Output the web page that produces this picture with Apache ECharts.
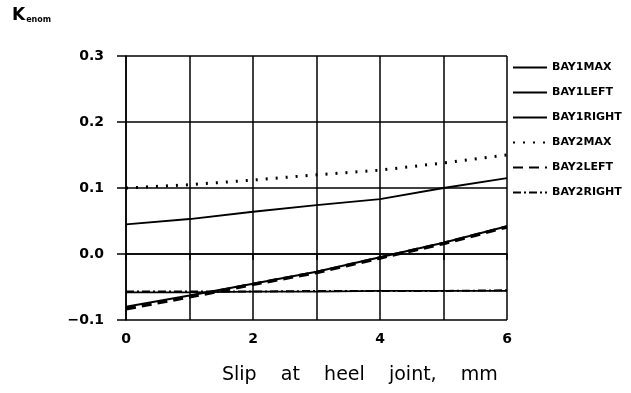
<!DOCTYPE html>
<html>
<head>
<meta charset="utf-8">
<script src="https://cdn.jsdelivr.net/npm/echarts@6/dist/echarts.min.js"></script>
<style>
    html, body { margin: 0; padding: 0; background: #fff; }
    #chart { width: 631px; height: 393px; }
</style>
</head>
<body>
<div id="chart"></div>
<script>
    // slip at heel joint, mm
    var slip = [0, 1, 2, 3, 4, 5, 6];
    var xTicks = ['0', '', '2', '', '4', '', '6'];
    var yTicks = ['\u22120.1', '0.0', '0.1', '0.2', '0.3'];

    var bay1Max = [0.045, 0.053, 0.064, 0.074, 0.083, 0.100, 0.115];
    var bay1Left = [-0.080, -0.063, -0.045, -0.027, -0.005, 0.017, 0.042];
    var bay1Right = [-0.058, -0.058, -0.057, -0.057, -0.056, -0.056, -0.056];
    var bay2Max = [0.100, 0.105, 0.112, 0.120, 0.127, 0.138, 0.150];
    var bay2Left = [-0.083, -0.065, -0.046, -0.028, -0.006, 0.016, 0.041];
    var bay2Right = [-0.057, -0.057, -0.057, -0.056, -0.056, -0.056, -0.055];

    function pairs(ys) {
        return slip.map(function (x, i) { return [x, ys[i]]; });
    }

    function line(name, ys, type, width) {
        return {
            name: name,
            type: 'line',
            data: pairs(ys),
            symbol: 'none',
            silent: true,
            itemStyle: { color: '#000', opacity: 0 },
            lineStyle: { color: '#000', width: width, type: type }
        };
    }

    var chart = echarts.init(document.getElementById('chart'));
    chart.setOption({
        animation: false,
        backgroundColor: '#fff',
        textStyle: { fontFamily: 'DejaVu Sans', color: '#000' },
        grid: { left: 126, right: 124, top: 56, bottom: 73 },
        graphic: [{
            type: 'text',
            left: 12,
            top: 7,
            style: {
                text: '{k|K}{s|enom}',
                rich: {
                    k: { fontSize: 17, fontWeight: 'bold', fill: '#000', fontFamily: 'DejaVu Sans' },
                    s: { fontSize: 8, fontWeight: 'bold', fill: '#000', fontFamily: 'DejaVu Sans', padding: [9, 0, 0, 1] }
                }
            }
        }, {
            type: 'text',
            left: 222,
            top: 366,
            style: {
                text: 'Slip    at    heel    joint,    mm',
                fontSize: 19,
                fill: '#000',
                fontFamily: 'DejaVu Sans'
            }
        }],
        legend: {
            orient: 'vertical',
            left: 507,
            top: 57,
            itemWidth: 34,
            itemHeight: 11,
            itemGap: 14,
            textStyle: { fontSize: 11, fontWeight: 'bold', color: '#000', fontFamily: 'DejaVu Sans' },
            data: ['BAY1MAX', 'BAY1LEFT', 'BAY1RIGHT', 'BAY2MAX', 'BAY2LEFT', 'BAY2RIGHT']
        },
        xAxis: {
            type: 'value',
            min: 0,
            max: 6,
            interval: 1,
            axisLine: { lineStyle: { color: '#000', width: 1.5 } },
            axisTick: { show: true, length: 6, lineStyle: { color: '#000', width: 1.5 } },
            axisLabel: {
                margin: 12,
                fontSize: 14,
                fontWeight: 'bold',
                color: '#000',
                formatter: function (v) { return xTicks[Math.round(v)]; }
            },
            splitLine: { show: true, lineStyle: { color: '#000', width: 1.5 } }
        },
        yAxis: {
            type: 'value',
            min: -0.1,
            max: 0.3,
            interval: 0.1,
            axisLine: { lineStyle: { color: '#000', width: 1.5 } },
            axisTick: { show: true, length: 9, lineStyle: { color: '#000', width: 1.5 } },
            axisLabel: {
                margin: 22,
                fontSize: 14,
                fontWeight: 'bold',
                color: '#000',
                formatter: function (v) { return yTicks[Math.round((v + 0.1) * 10)]; }
            },
            splitLine: { show: true, lineStyle: { color: '#000', width: 1.5 } }
        },
        series: [
            line('BAY1MAX', bay1Max, 'solid', 1.8),
            line('BAY1LEFT', bay1Left, 'solid', 2),
            line('BAY1RIGHT', bay1Right, 'solid', 1.8),
            line('BAY2MAX', bay2Max, [2, 8], 3),
            line('BAY2LEFT', bay2Left, [10, 6], 3.5),
            line('BAY2RIGHT', bay2Right, [8, 3, 2, 3], 2)
        ]
    });
</script>
</body>
</html>
